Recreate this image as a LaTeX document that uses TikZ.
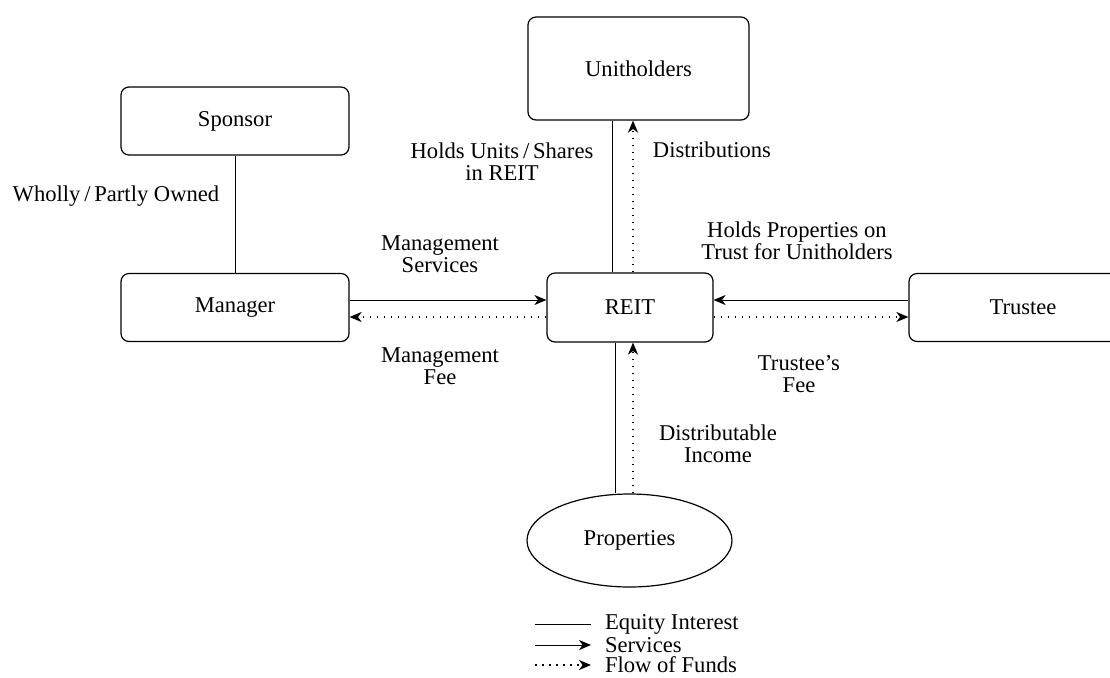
\documentclass[tikz,border=0pt]{standalone}
\IfFileExists{pplr8t.tfm}
  {\usepackage[T1]{fontenc}\renewcommand\rmdefault{ppl}\newcommand\labelsize{\fontsize{10}{11}\selectfont}}
  {\usepackage{fontspec}\setmainfont{Liberation Serif}\newcommand\labelsize{\fontsize{11.3}{11}\selectfont}}
\usetikzlibrary{arrows.meta,shapes.geometric}

\tikzset{
  entity/.style={draw, rounded corners=4pt, line width=0.6pt, align=center,
                 minimum width=114pt, minimum height=34pt},
  eqline/.style={line width=0.5pt},
  svcline/.style={line width=0.5pt, -{Stealth[length=6pt,width=5pt,inset=1.8pt]}},
  fundline/.style={svcline, line width=0.9pt, dash pattern=on 0.9pt off 2.6pt},
}

\begin{document}
\begin{tikzpicture}[x=0.5pt,y=-0.5pt,font=\labelsize]
  \clip (0,0) rectangle (1110,677);
  \fill[white] (0,0) rectangle (1110,677);

  \node[entity] (sponsor)  at (235,121)   {Sponsor};
  \node[entity] (manager)  at (235,307.5) {Manager};
  \node[entity, minimum width=83pt, minimum height=34.5pt] (reit) at (630,307.5) {REIT};
  \node[entity, minimum width=110.5pt, minimum height=51.5pt] (unitholders) at (638.5,68.5) {Unitholders};
  \node[entity] (trustee)  at (1023,307.5) {Trustee};
  \node[draw, ellipse, line width=0.6pt, inner sep=0pt,
        minimum width=102.5pt, minimum height=46.5pt] (properties) at (629.5,540.5) {Properties};

  \draw[eqline]   (sponsor) -- (manager);
  \draw[svcline]  ([yshift=3.75pt]manager.east) -- ([yshift=3.75pt]reit.west);
  \draw[fundline] ([yshift=-4.75pt]reit.west)   -- ([yshift=-4.75pt]manager.east);
  \draw[svcline]  ([yshift=3.75pt]trustee.west) -- ([yshift=3.75pt]reit.east);
  \draw[fundline] ([yshift=-4.75pt]reit.east)   -- ([yshift=-4.75pt]trustee.west);
  \draw[eqline]   ([xshift=-9pt]reit.north) -- ([xshift=-9pt]reit.north |- unitholders.south);
  \draw[fundline] ([xshift=1.5pt]reit.north) -- ([xshift=1.5pt]reit.north |- unitholders.south);
  \draw[eqline]   ([xshift=-7.5pt]reit.south) -- ([xshift=-7.5pt]reit.south |- properties.north);
  \draw[fundline] ([xshift=1.5pt]reit.south |- properties.north) -- ([xshift=1.5pt]reit.south);

  \node (lblowned)  at (116,196)   {Wholly\,/\,Partly Owned};
  \node[align=center] (lblholds)  at (502,161.5) {Holds Units\,/\,Shares\\in REIT};
  \node (lbldist)   at (712,150)   {Distributions};
  \node[align=center] (lblsvc)    at (440,254)   {Management\\Services};
  \node[align=center] (lblmfee)   at (440,366.5) {Management\\Fee};
  \node[align=center] (lbltrust)  at (797,241)   {Holds Properties on\\Trust for Unitholders};
  \node[align=center] (lbltfee)   at (799,374.5) {Trustee's\\Fee};
  \node[align=center] (lblincome) at (718,444)   {Distributable\\Income};

  % legend
  \foreach \y/\sty/\txt [count=\i] in {624/eqline/Equity Interest,
                                       645/svcline/Services,
                                       665/fundline/Flow of Funds}
  {
      \coordinate (leg\i) at (535,\y);
      \node[anchor=west] (legtxt\i) at (598,\y) {\txt};
      \draw[\sty] (leg\i) -- ([xshift=-3.5pt]legtxt\i.west);
  }
\end{tikzpicture}
\end{document}
